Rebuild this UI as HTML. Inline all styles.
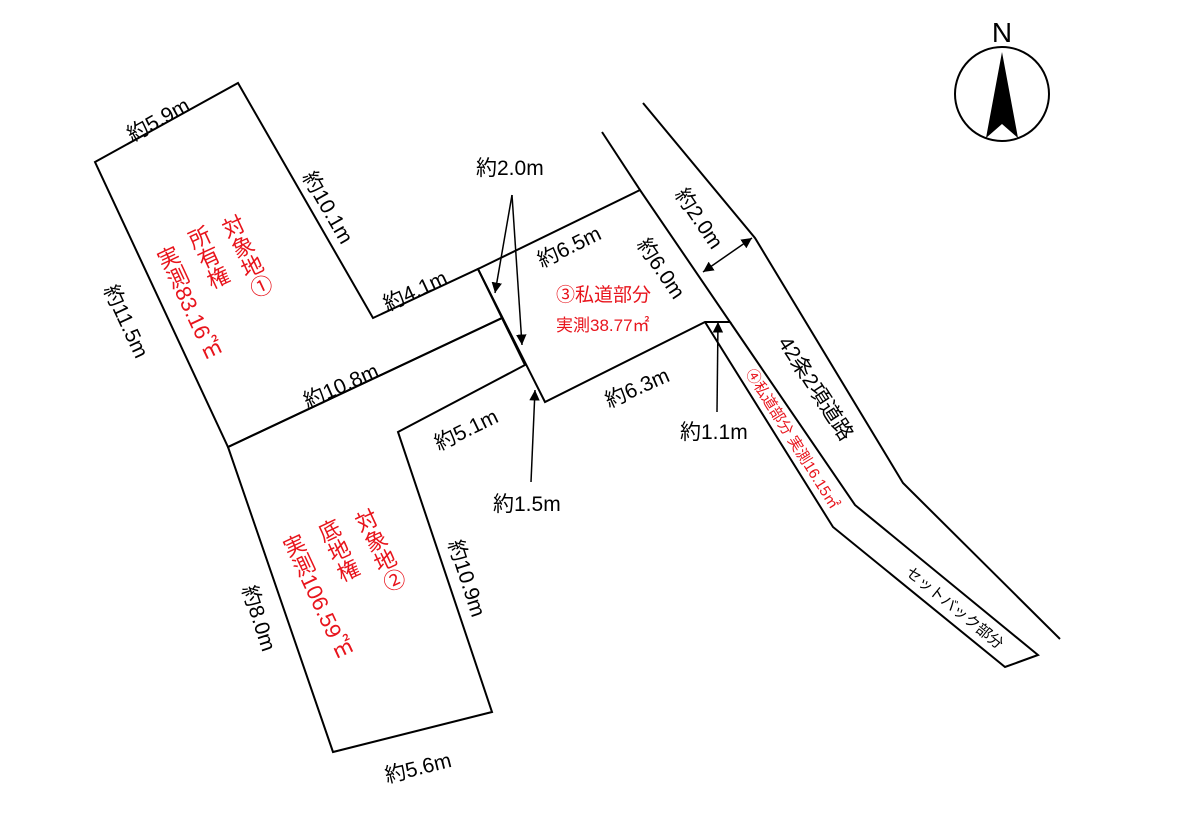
<!DOCTYPE html>
<html><head><meta charset="utf-8"><style>
body{margin:0;background:#fff;}
#c{position:relative;width:1200px;height:830px;overflow:hidden;font-family:"Liberation Sans","Noto Sans CJK JP",sans-serif;}
svg{position:absolute;left:0;top:0;}
.v{position:absolute;writing-mode:vertical-rl;color:#e8141c;font-size:22px;line-height:24px;width:24px;height:300px;transform-origin:50% 0;transform:rotate(-25deg);white-space:nowrap;}
.l{position:absolute;font-size:21px;white-space:nowrap;transform-origin:50% 50%;}
</style></head><body><div id="c">
<svg width="1200" height="830" viewBox="0 0 1200 830">
<defs><marker id="a" viewBox="0 0 10 10" refX="10" refY="5" markerWidth="7" markerHeight="7" orient="auto-start-reverse"><path d="M0,0L10,5L0,10z" fill="#000"/></marker></defs>
<g fill="none" stroke="#000" stroke-width="2">
<polygon points="95,162 238,83 373,318 478,269 502,318 228,447"/>
<polygon points="228,447 502,318 525,365 398,432 492,712 333,752"/>
<polygon points="478,269 640,190 730,322 705,322 545,402"/>
<polyline points="602,132 640,190"/>
<polyline points="730,322 855,505 1038,655 1005,667 833,527 705,322"/>
<polyline points="643,103 755,238 903,483 1060,639"/>
<circle cx="1002" cy="94" r="47"/>
<g stroke-width="1.5">
<line x1="512" y1="195" x2="495" y2="293" marker-end="url(#a)"/>
<line x1="512" y1="195" x2="522" y2="345" marker-end="url(#a)"/>
<line x1="531" y1="482" x2="535" y2="390" marker-end="url(#a)"/>
<line x1="717" y1="412" x2="718" y2="322" marker-end="url(#a)"/>
<line x1="703" y1="272" x2="752" y2="238" marker-start="url(#a)" marker-end="url(#a)"/>
</g></g>
<path d="M1002,52 L1018,138 L1002,124 L986,138 Z" fill="#000"/>
<text x="1002" y="42" font-size="28" text-anchor="middle" font-family="Liberation Sans">N</text>
</svg>
<div class="v" style="left:215px;top:217px">対象地①</div>
<div class="v" style="left:181px;top:228px">所有権</div>
<div class="v" style="left:150px;top:248px">実測83.16㎡</div>
<div class="v" style="left:348px;top:511px">対象地②</div>
<div class="v" style="left:311px;top:521px">底地権</div>
<div class="v" style="left:276px;top:536px">実測106.59㎡</div>
<div class="l" style="left:124px;top:104px;transform:rotate(-29deg)">約5.9m</div>
<div class="l" style="left:289px;top:192px;transform:rotate(60deg)">約10.1m</div>
<div class="l" style="left:381px;top:275px;transform:rotate(-25deg)">約4.1m</div>
<div class="l" style="left:88px;top:306px;transform:rotate(65deg)">約11.5m</div>
<div class="l" style="left:301px;top:370px;transform:rotate(-24deg)">約10.8m</div>
<div class="l" style="left:535px;top:231px;transform:rotate(-26deg)">約6.5m</div>
<div class="l" style="left:628px;top:253px;transform:rotate(56deg)">約6.0m</div>
<div class="l" style="left:666px;top:203px;transform:rotate(56deg)">約2.0m</div>
<div class="l" style="left:757px;top:373px;transform:rotate(57deg)">42条2項道路</div>
<div class="l" style="left:603px;top:372px;transform:rotate(-24deg)">約6.3m</div>
<div class="l" style="left:432px;top:414px;transform:rotate(-26deg)">約5.1m</div>
<div class="l" style="left:428px;top:563px;transform:rotate(72deg)">約10.9m</div>
<div class="l" style="left:226px;top:603px;transform:rotate(72deg)">約8.0m</div>
<div class="l" style="left:384px;top:752px;transform:rotate(-14deg)">約5.6m</div>
<div class="l" style="left:476px;top:152px">約2.0m</div>
<div class="l" style="left:493px;top:488px">約1.5m</div>
<div class="l" style="left:680px;top:416px">約1.1m</div>
<div class="l" style="left:556px;top:280px;color:#e8141c;font-size:19px">③私道部分</div>
<div class="l" style="left:556px;top:311px;color:#e8141c;font-size:17px">実測38.77㎡</div>
<div class="l" style="left:712px;top:428px;color:#e8141c;font-size:15px;transform:rotate(58deg)">④私道部分 実測16.15㎡</div>
<div class="l" style="left:895px;top:597px;font-size:15px;transform:rotate(39deg)">セットバック部分</div>
</div></body></html>
